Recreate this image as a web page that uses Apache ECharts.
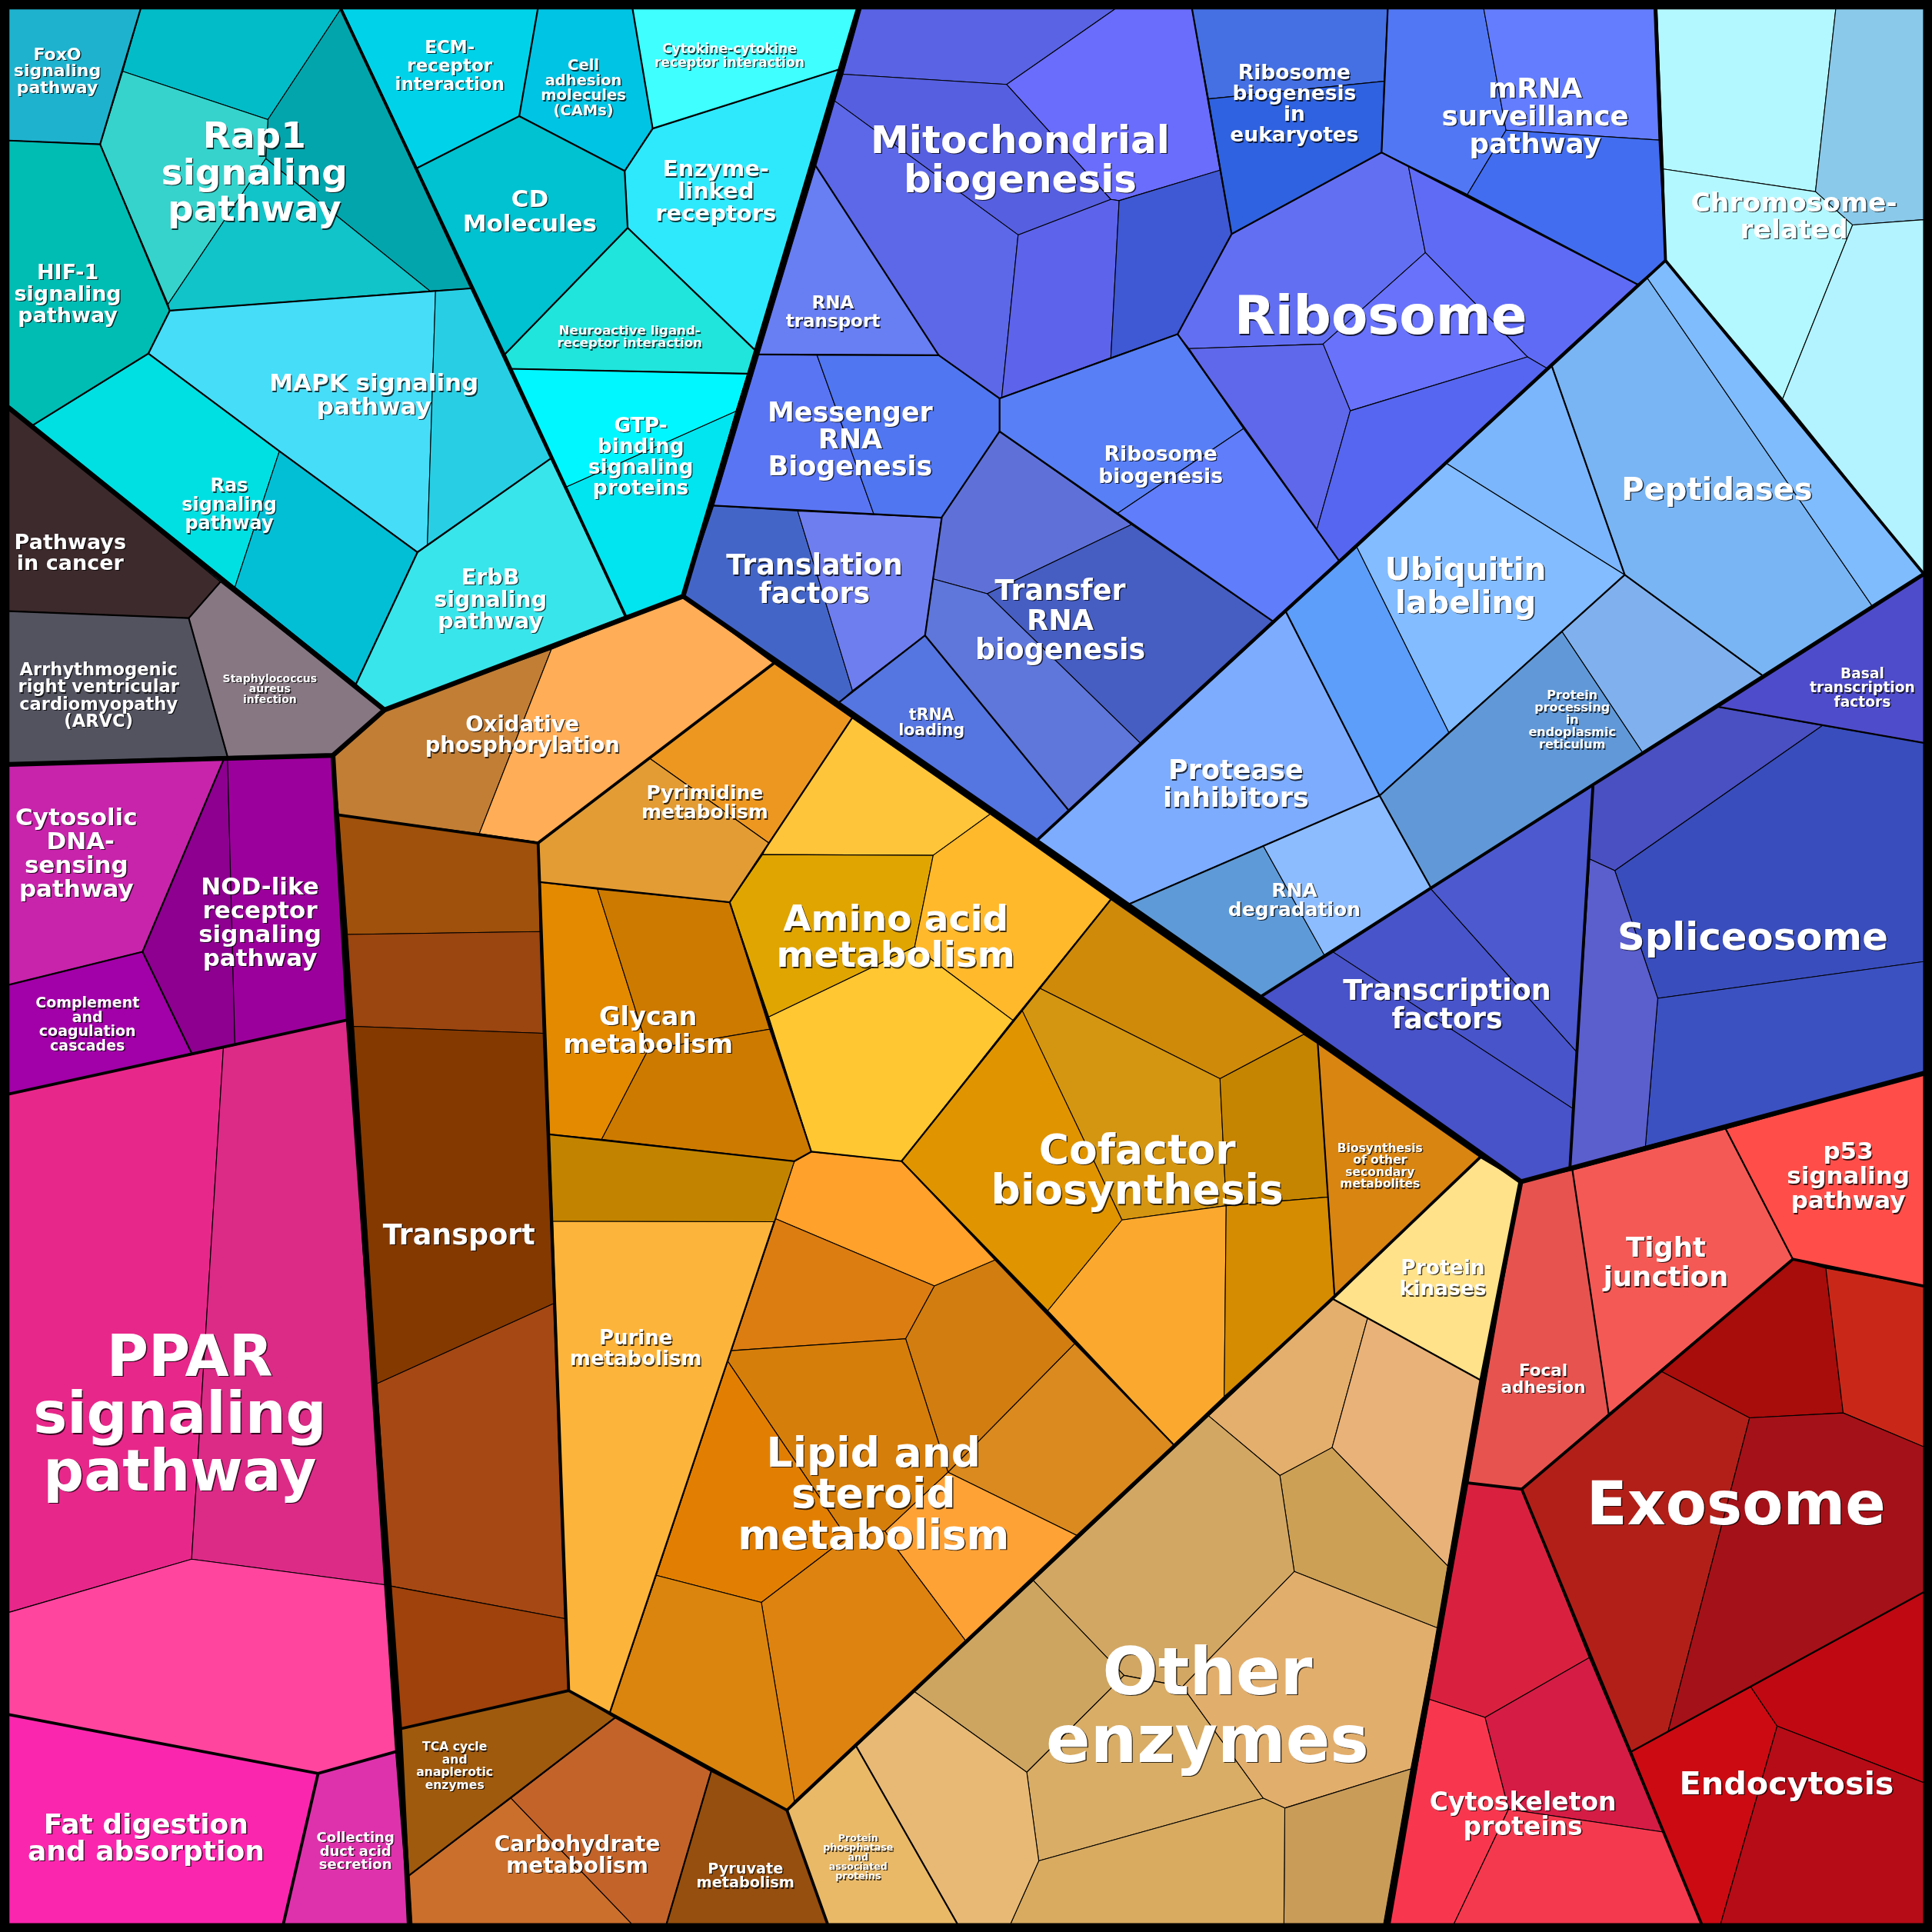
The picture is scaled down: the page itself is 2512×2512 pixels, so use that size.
<!DOCTYPE html>
<html><head><meta charset="utf-8">
<style>html,body{margin:0;padding:0;background:#000}#c{width:2512px;height:2512px}</style>
<script src="https://cdn.jsdelivr.net/npm/echarts@6/dist/echarts.min.js"></script>
</head><body><div id="c"></div>
<script>
const signalingCells = [
 ['#1fb2ce',[[7.3,7.3],[113.7,7.3],[81,116.7],[7.3,113.7]]],
 ['#02bcc8',[[113.7,7.3],[275.7,7.3],[216.7,96.7],[99.3,57.7]]],
 ['#03a5ac',[[275.7,7.3],[380.7,233.3],[347.7,235.3],[215,128.3],[216.7,96.7]]],
 ['#35d3cc',[[99.3,57.7],[216.7,96.7],[215,128.3],[136,246],[81,116.7]]],
 ['#10c4c9',[[215,128.3],[347.7,235.3],[137.3,251.3],[136,246]]],
 ['#00bdb4',[[7.3,113.7],[81,116.7],[137.3,251.3],[120,286],[26,344.3],[7.3,330]]],
 ['#46ddf8',[[137.3,251.3],[352.3,235.3],[345.7,440.7],[337.7,446.7],[226,365],[120,286]]],
 ['#28cfe4',[[352.3,235.3],[380.7,233.3],[445.3,371],[345.7,440.7]]],
 ['#00e0e3',[[120,286],[226,365],[190,475],[178.3,470.7],[26,344.3]]],
 ['#03bfd6',[[226,365],[337.7,446.7],[288,555],[190,475]]],
 ['#38e5ea',[[337.7,446.7],[445.3,371],[506,498.3],[311,576],[288,555]]],
 ['#00d3e9',[[276.7,7.3],[435,7.3],[420,94],[337.3,136]]],
 ['#00c4e4',[[435,7.3],[511.7,7.3],[529.7,104],[505.3,138.3],[420,94]]],
 ['#3fffff',[[511.7,7.3],[696,7.3],[681,56],[529.7,104]]],
 ['#2ee9fc',[[529.7,104],[681,56],[612.6,283.3],[507.7,184.3],[505.3,138.3]]],
 ['#00c2d0',[[420,94],[505.3,138.3],[507.7,184.3],[408,287],[337.3,136]]],
 ['#1fe5dc',[[408,287],[507.7,184.3],[612.6,283.3],[606.6,302.3],[412.7,298.3]]],
 ['#00f7ff',[[412.7,298.3],[606.6,302.3],[597,332.7],[458,394]]],
 ['#00e5f0',[[458,394],[597,332.7],[554.3,482.3],[506,498.3]]]
];
const blueCells = [
 ['#5963e3',[[698.3,7.3],[903.6,7.3],[816,68.3],[683.6,60]]],
 ['#6a6cfb',[[903.6,7.3],[966,7.3],[988.6,137.7],[907,162.3],[900.3,161.3],[816,68.3]]],
 ['#565fe0',[[683.6,60],[816,68.3],[900.3,161.3],[825.3,190],[677,81.7]]],
 ['#5c68e8',[[677,81.7],[825.3,190],[812,321.7],[810.3,322.3],[761,287.3],[661.6,134.3]]],
 ['#5d63ea',[[825.3,190],[900.3,161.3],[907,162.3],[900.3,289.3],[812,321.7]]],
 ['#3f58d4',[[907,162.3],[988.6,137.7],[998,189.3],[954.3,270.3],[900.3,289.3]]],
 ['#687ef3',[[661.6,134.3],[761,287.3],[615.6,286.7]]],
 ['#5a75f3',[[615.6,286.7],[662.6,287.3],[708.6,416],[579,409]]],
 ['#5076f1',[[662.6,287.3],[761,287.3],[810.3,322.3],[810.3,349],[763.3,418.7],[708.6,416]]],
 ['#4465c8',[[579,409],[647,413.3],[691.3,560.3],[680.3,570],[554.3,482.3]]],
 ['#6f7eee',[[647,413.3],[763.5,419],[750,514],[691.3,560.3]]],
 ['#5575e1',[[750,514],[866,657],[840,682],[680.3,570]]],
 ['#5f71d8',[[763.3,418.7],[810.3,349],[917,424.3],[800.3,480.3],[756.6,468.3]]],
 ['#465dc2',[[917,424.3],[1031,502.3],[923.9,602.6],[800.3,480.3]]],
 ['#5f76da',[[756.6,468.3],[800.3,480.3],[923.9,602.6],[866,657],[750,514]]],
 ['#587ff5',[[810.3,322.3],[954.3,270.3],[1007.6,346.7],[905.6,415.3],[810.3,349]]],
 ['#607dfb',[[1007.6,346.7],[1086.4,453.3],[1031,502.3],[917,424.3],[905.6,415.3]]],
 ['#636ff2',[[998,189.3],[1121,123.3],[1142.7,134.3],[1156.4,204.3],[1073.7,278.3],[963.6,282],[954.3,270.3]]],
 ['#606bf5',[[1142.7,134.3],[1328,230],[1254.4,297.7],[1239,288.7],[1156.4,204.3]]],
 ['#6872fb',[[1156.4,204.3],[1239,288.7],[1095.7,332.3],[1073.7,278.3]]],
 ['#5f68ea',[[963.6,282],[1073.7,278.3],[1095.7,332.3],[1068.7,428.3],[1007.6,346.7]]],
 ['#5666f0',[[1095.7,332.3],[1239,288.7],[1254.4,297.7],[1086.4,453.3],[1068.7,428.3]]],
 ['#4570e4',[[966,7.3],[1126,7.3],[1123,65.7],[979.3,80]]],
 ['#2f62e0',[[979.3,80],[1123,65.7],[1121,123.3],[998,189.3]]],
 ['#5177f5',[[1126,7.3],[1203.7,7.3],[1221.7,105.3],[1190.4,157.3],[1121,123.3]]],
 ['#647dfe',[[1203.7,7.3],[1341.4,7.3],[1345.4,113.3],[1221.7,105.3]]],
 ['#426df0',[[1221.7,105.3],[1345.4,113.3],[1350.7,210.7],[1328,230],[1190.4,157.3]]]
];
const paleBlueCells = [
 ['#b4f8ff',[[1343.7,7.3],[1488.4,7.3],[1472,155],[1349,136.7]]],
 ['#8ac9e9',[[1488.4,7.3],[1559.4,7.3],[1559.4,177.7],[1502,182],[1472,155]]],
 ['#b4f8ff',[[1349,136.7],[1472,155],[1502,182],[1445.4,322.7],[1350.7,210.7]]],
 ['#b3f3ff',[[1502,182],[1559.4,177.7],[1559.4,464],[1445.4,322.7]]],
 ['#79b5f4',[[1336,225],[1517.7,490],[1429.4,548.3],[1317.7,465],[1258.7,296]]],
 ['#7fbcfd',[[1336,225],[1350.7,210.7],[1559.4,464],[1517.7,490]]],
 ['#7bb6fd',[[1173.7,375],[1258.7,296],[1317.7,465]]],
 ['#83bcff',[[1173.7,375],[1317.7,465],[1267,511],[1175.4,594.3],[1101,442.7]]],
 ['#5c9efa',[[1101,442.7],[1175.4,594.3],[1119.4,645.3],[1043.7,495]]],
 ['#80b1ee',[[1267,511],[1317.7,465],[1429.4,548.3],[1332,610.3]]],
 ['#6199d8',[[1267,511],[1332,610.3],[1161,720],[1119.4,645.3],[1175.4,594.3]]],
 ['#7dacff',[[1043.7,495],[1119.4,645.3],[914.3,733.3],[840,682]]],
 ['#5e9ad7',[[914.3,733.3],[1023.6,686],[1074.7,774.3],[1021,808.3]]],
 ['#8cbcfd',[[1023.6,686],[1119.4,645.3],[1161,720],[1074.7,774.3]]]
];
const spliceCells = [
 ['#4c59cf',[[1292,637.6],[1161,721],[1278.7,852.6]]],
 ['#4854ca',[[1161,721],[1278.7,852.6],[1275.4,898.3],[1082,772]]],
 ['#4852c9',[[1082,772],[1275.4,898.3],[1273.4,946],[1233.7,957.6],[1021,808.3]]],
 ['#4a4fc2',[[1292,637.6],[1393.7,573.6],[1477.7,588.6],[1309.7,706],[1289.4,696.6]]],
 ['#4f4ccb',[[1393.7,573.6],[1559.4,466],[1559.4,602.6]]],
 ['#394dbc',[[1477.7,588.6],[1559.4,602.6],[1559.4,779.6],[1344.4,809.3],[1309.7,706]]],
 ['#3b51c2',[[1344.4,809.3],[1559.4,779.6],[1559.4,870],[1334.4,929]]],
 ['#5b5ecd',[[1289.4,696.6],[1309.7,706],[1344.4,809.3],[1334.4,929],[1273.4,946]]]
];
const redCells = [
 ['#ff4e4a',[[1399.4,915],[1559.4,870],[1559.4,1042],[1453.7,1020.3]]],
 ['#f55955',[[1275.4,948.3],[1399.4,915],[1453.7,1020.3],[1304.7,1147]]],
 ['#e7534f',[[1233.7,957.6],[1275.4,948.3],[1304.7,1147],[1234.4,1208],[1191,1203]]],
 ['#a80c0b',[[1347.7,1113],[1453.7,1020.3],[1480.4,1027.6],[1494.4,1146.4],[1418.7,1150.4]]],
 ['#c92819',[[1480.4,1027.6],[1559.4,1042],[1559.4,1173.7],[1494.4,1146.4]]],
 ['#b21f19',[[1347.7,1113],[1418.7,1150.4],[1352.7,1404.4],[1323,1420.4],[1234.4,1208]]],
 ['#a51118',[[1418.7,1150.4],[1494.4,1146.4],[1559.4,1173.7],[1559.4,1291.4],[1352.7,1404.4]]],
 ['#cc0a12',[[1323,1420.4],[1419.7,1368],[1441,1399.7],[1395.4,1559.4],[1379.7,1559.4]]],
 ['#c00812',[[1419.7,1368],[1559.4,1291.4],[1559.4,1445.4],[1441,1399.7]]],
 ['#b60c17',[[1441,1399.7],[1559.4,1445.4],[1559.4,1559.4],[1395.4,1559.4]]],
 ['#d9213f',[[1191,1203],[1234.4,1208],[1289,1344.4],[1204.7,1392.7],[1159.7,1378]]],
 ['#d41c45',[[1204.7,1392.7],[1289,1344.4],[1348.7,1485.4],[1223.7,1467]]],
 ['#f8374f',[[1159.7,1378],[1204.7,1392.7],[1223.7,1467],[1179.7,1559.4],[1126.4,1559.4]]],
 ['#f4394f',[[1223.7,1467],[1348.7,1485.4],[1379.7,1559.4],[1179.7,1559.4]]]
];
const tanCells = [
 ['#ffe28a',[[1200.7,938],[1233.7,957.6],[1202,1120.4],[1082,1054.4]]],
 ['#e4af6c',[[1082,1054.4],[1109.7,1069.7],[1081,1174.4],[1037,1197],[979.3,1148.7]]],
 ['#e9b278',[[1109.7,1069.7],[1202,1120.4],[1174.7,1270.4],[1081,1174.4]]],
 ['#cca055',[[1081,1174.4],[1174.7,1270.4],[1166.4,1320.4],[1050.4,1274.7],[1037,1197]]],
 ['#d2a763',[[979.3,1148.7],[1037,1197],[1050.4,1274.7],[958.3,1367.7],[911,1358.7],[837.6,1282]]],
 ['#cda560',[[837.6,1282],[911,1358.7],[901,1368.7],[832.3,1437],[741.6,1372]]],
 ['#d9ad66',[[911,1358.7],[958.3,1367.7],[1023.6,1458],[842,1508.7],[832.3,1437],[901,1368.7]]],
 ['#e2ae6c',[[1050.4,1274.7],[1166.4,1320.4],[1144.7,1434.4],[1041,1466],[1023.6,1458],[958.3,1367.7]]],
 ['#c99c58',[[1041,1466],[1144.7,1434.4],[1122.7,1559.4],[1040.3,1559.4]]],
 ['#d8ab61',[[842,1508.7],[1023.6,1458],[1041,1466],[1040.3,1559.4],[819.3,1559.4]]],
 ['#e7b975',[[741.6,1372],[832.3,1437],[842,1508.7],[819.3,1559.4],[776,1559.4],[694.3,1416]]],
 ['#e9b967',[[694.3,1416],[776,1559.4],[671,1559.4],[638.3,1467.7]]]
];
const orangeCells = [
 ['#ffa12a',[[658,933.3],[731,941],[806.6,1021],[757.6,1043.7],[629.3,987.6],[644.3,941]]],
 ['#dc7d12',[[629.3,987.6],[757.6,1043.7],[734.3,1086.4],[593.3,1096]]],
 ['#d17d10',[[757.6,1043.7],[806.6,1021],[871,1090.4],[768.6,1194.4],[734.3,1086.4]]],
 ['#da8a1e',[[871,1090.4],[951,1172],[872.6,1245.4],[768.6,1194.4]]],
 ['#d67e0a',[[593.3,1096],[734.3,1086.4],[768.6,1194.4],[717.6,1242],[691,1243.7],[681,1238.7],[590.3,1104.4]]],
 ['#e27f02',[[590.3,1104.4],[681,1238.7],[691,1243.7],[617.6,1299.7],[532.6,1277.7]]],
 ['#ffa235',[[768.6,1194.4],[872.6,1245.4],[782.6,1330.4],[727.6,1257],[717.6,1242]]],
 ['#de830f',[[691,1243.7],[717.6,1242],[727.6,1257],[782.6,1330.4],[644.3,1460.4],[617.6,1299.7]]],
 ['#db850e',[[532.6,1277.7],[617.6,1299.7],[644.3,1460.4],[638.3,1467.7],[493.3,1388.7]]],
 ['#fdb43a',[[447,989.5],[628,990],[593.3,1096],[532.6,1277.7],[493.3,1388.7],[460,1371]]],
 ['#c28400',[[444.3,919.3],[644.3,941],[628,990],[447,989.5]]],
 ['#e38a00',[[436.7,715.3],[483.3,721],[526,851],[486.7,923.3],[444.3,919.3]]],
 ['#cc7a00',[[483.3,721],[592,731.6],[624.3,834.3],[526,851]]],
 ['#cd7a00',[[526,851],[624.3,834.3],[658,933.3],[644.3,941],[486.7,923.3]]],
 ['#ed9721',[[527,615],[627.6,538.3],[691,582.6],[623.6,683.6]]],
 ['#e39c34',[[435.3,683.6],[527,615],[623.6,683.6],[592,731.6],[436.7,715.3]]],
 ['#c27e35',[[310.7,576],[446,527],[387.7,676],[274,661],[269.3,612.7]]],
 ['#ffad56',[[446,527],[554.3,482.3],[627.6,538.3],[527,615],[435,683],[387.7,676]]],
 ['#ffc53a',[[691,582.6],[802.6,660.3],[756.6,693.6],[618.6,693],[623.6,683.6]]],
 ['#e0a500',[[618.6,693],[756.6,693.6],[741.6,767.7],[623.6,824.3],[592,731.6]]],
 ['#ffb92b',[[802.6,660.3],[900.3,729.3],[821,827],[741.6,767.7],[756.6,693.6]]],
 ['#ffc732',[[623.6,824.3],[741.6,767.7],[821,827],[731,941],[658,933.3]]],
 ['#cf8a0a',[[900.3,729.3],[1069.4,846],[1058,838.5],[988.6,874.3],[842.6,801]]],
 ['#d49510',[[842.6,801],[988.6,874.3],[993.6,977],[909.3,988.6],[828.6,819.3]]],
 ['#e09400',[[828.6,819.3],[909.3,988.6],[849.3,1063.7],[731,941]]],
 ['#faa92e',[[909.3,988.6],[993.6,977],[992,1133],[951,1172],[849.3,1063.7]]],
 ['#c68500',[[988.6,874.3],[1058,838.5],[1069.4,846],[1077.7,970],[993.6,977]]],
 ['#d68c00',[[993.6,977],[1077.7,970],[1083,1052],[992,1133]]],
 ['#d98512',[[1069.4,846],[1200.4,937.6],[1083,1052]]]
];
const brownCells = [
 ['#a0510b',[[274,661],[435,683],[436.7,755.3],[281,757.6]]],
 ['#9b4510',[[281,757.6],[436.7,755.3],[439.3,837.6],[286,832]]],
 ['#843900',[[286,832],[439.3,837.6],[447.7,1058],[305,1122.7]]],
 ['#a64813',[[305,1122.7],[447.7,1058],[456.7,1312.7],[315.7,1286.4]]],
 ['#9f420b',[[315.7,1286.4],[456.7,1312.7],[460,1371],[323.3,1402]]],
 ['#9f5a0e',[[323.3,1402],[460,1371],[497.3,1393],[331,1520.4]]],
 ['#cb6f2c',[[413.3,1458],[510.7,1559.4],[333.3,1559.4],[331,1520.4]]],
 ['#c3632a',[[497.3,1393],[577,1436.4],[541,1559.4],[510.7,1559.4],[413.3,1458]]],
 ['#964f0e',[[577,1436.4],[638.3,1467.7],[671,1559.4],[541,1559.4]]]
];
const magentaCells = [
 ['#3d2a2c',[[7.3,330],[178.3,470.7],[152.7,500],[7.3,494.3]]],
 ['#535360',[[7.3,494.3],[152.7,500],[184,613.6],[7.3,619]]],
 ['#867782',[[178.3,470.7],[310.7,576],[269.3,612.7],[184,613.6],[152.7,500]]],
 ['#c724ab',[[7.3,620],[181,616],[115.3,771.6],[7.3,798.3]]],
 ['#a200a8',[[7.3,798.3],[115.3,771.6],[155,853.6],[7.3,886.6]]],
 ['#8d0090',[[181,616],[184,614],[190,846.3],[155,853.6],[115.3,771.6]]],
 ['#9c009c',[[184,613.6],[269.3,612.7],[281.7,826.6],[190,846.3]]],
 ['#e8278a',[[7.3,886.6],[180.7,849.3],[155,1264.7],[7.3,1307.7]]],
 ['#dc2a87',[[180.7,849.3],[281.7,826.6],[311,1285.4],[155,1264.7]]],
 ['#ff459e',[[7.3,1307.7],[155,1264.7],[311,1285.4],[320,1420.4],[257.3,1438],[7.3,1390.4]]],
 ['#fb26ae',[[7.3,1390.4],[257.3,1438],[229.3,1559.4],[7.3,1559.4]]],
 ['#de32ac',[[257.3,1438],[320,1420.4],[331,1559.4],[229.3,1559.4]]]
];
// Group borders, thickest first
const thickBorders = [
 [[7.3,330],[311,576],[554.3,482.3]],
 [[311,576],[269.3,612.7],[7.3,620]],
 [[269.3,612.7],[281.7,826.6],[323.3,1402],[331,1559.4]],
 [[554.3,482.3],[840,682],[1021,808.3],[1233.7,957.6]],
 [[1233.7,957.6],[1559.4,870]],
 [[1233.7,957.6],[1202,1120.4],[1126.4,1559.4]],
 [[696,7.3],[554.3,482.3]]
];
const heavyBorders = [
 [[7.3,886.6],[281.7,826.6]],
 [[275.7,7.3],[408,287],[506,498.3]],
 [[840,682],[1350.7,210.7]],
 [[1343,7.3],[1350.7,210.7],[1559.4,464],[1021,808.3]],
 [[638.3,1467.7],[1083,1052],[1200.7,938]],
 [[638.3,1467.7],[671,1559.4]],
 [[1234.4,1208],[1379.7,1559.4]],
 [[1191,1203],[1234.4,1208],[1453.7,1020.3],[1559.4,1042]],
 [[1292,637.6],[1273.4,946]],
 [[435.3,683.6],[460,1371],[638.3,1467.7]],
 [[274,661],[435.3,683.6],[527,615],[627.6,538.3]],
 [[323.3,1402],[460,1371]],
 [[7.3,1390.4],[257.3,1438],[320,1420.4]],
 [[257.3,1438],[229.3,1559.4]]
];
const midBorders = [
 [[113.7,7.3],[81,116.7],[7.3,113.7]],
 [[81,116.7],[137.3,251.3],[120,286],[26,344.3]],
 [[137.3,251.3],[380.7,233.3]],
 [[120,286],[226,365],[337.7,446.7],[288,555]],
 [[337.7,446.7],[445.3,371]],
 [[435,7.3],[420,94],[337.3,136]],
 [[420,94],[505.3,138.3],[529.7,104],[511.7,7.3]],
 [[529.7,104],[681,56]],
 [[505.3,138.3],[507.7,184.3],[408,287]],
 [[507.7,184.3],[612.6,283.3]],
 [[412.7,298.3],[606.6,302.3]],
 [[966,7.3],[998,189.3],[954.3,270.3],[810.3,322.3]],
 [[661.6,134.3],[761,287.3],[810.3,322.3],[810.3,349],[763.3,418.7],[579,409]],
 [[615.6,286.7],[761,287.3]],
 [[763.5,419],[750,514],[680.3,570]],
 [[750,514],[866,657]],
 [[810.3,349],[1031,502.3]],
 [[954.3,270.3],[1086.4,453.3]],
 [[998,189.3],[1121,123.3],[1328,230]],
 [[1126,7.3],[1121,123.3]],
 [[1258.7,296],[1317.7,465],[1429.4,548.3]],
 [[1317.7,465],[1119.4,645.3]],
 [[1043.7,495],[1119.4,645.3],[1161,720]],
 [[1119.4,645.3],[914.3,733.3]],
 [[1393.7,573.6],[1559.4,602.6]],
 [[1399.4,915],[1453.7,1020.3]],
 [[1275.4,948.3],[1304.7,1147]],
 [[1323,1420.4],[1559.4,1291.4]],
 [[900.3,729.3],[731,941],[951,1172]],
 [[658,933.3],[731,941]],
 [[592,731.6],[658,933.3],[644.3,941],[444.3,919.3]],
 [[592,731.6],[691,582.6]],
 [[436.7,715.3],[592,731.6]],
 [[628,990],[493.3,1388.7]],
 [[331,1520.4],[497.3,1393]],
 [[577,1436.4],[541,1559.4]],
 [[1069.4,846],[1083,1052]],
 [[1082,1054.4],[1202,1120.4]],
 [[694.3,1416],[776,1559.4]],
 [[7.3,494.3],[152.7,500],[178.3,470.7]],
 [[152.7,500],[184,613.6]],
 [[181,616],[115.3,771.6],[155,853.6]],
 [[115.3,771.6],[7.3,798.3]]
];
const labelNames = ['FoxO\nsignaling\npathway','Rap1\nsignaling\npathway','HIF-1\nsignaling\npathway','MAPK signaling\npathway','Ras\nsignaling\npathway','ErbB\nsignaling\npathway','Pathways\nin cancer','ECM-\nreceptor\ninteraction','Cell\nadhesion\nmolecules\n(CAMs)','CD\nMolecules','Enzyme-\nlinked\nreceptors','Neuroactive ligand-\nreceptor interaction','Cytokine-cytokine\nreceptor interaction','GTP-\nbinding\nsignaling\nproteins','Mitochondrial\nbiogenesis','RNA\ntransport','Messenger\nRNA\nBiogenesis','Translation\nfactors','tRNA\nloading','Transfer\nRNA\nbiogenesis','Ribosome\nbiogenesis','Ribosome','Ribosome\nbiogenesis\nin\neukaryotes','mRNA\nsurveillance\npathway','Chromosome-\nrelated','Peptidases','Ubiquitin\nlabeling','Protease\ninhibitors','RNA\ndegradation','Protein\nprocessing\nin\nendoplasmic\nreticulum','Basal\ntranscription\nfactors','Transcription\nfactors','Spliceosome','p53\nsignaling\npathway','Tight\njunction','Focal\nadhesion','Exosome','Endocytosis','Cytoskeleton\nproteins','Other\nenzymes','Protein\nkinases','Biosynthesis\nof other\nsecondary\nmetabolites','Cofactor\nbiosynthesis','Amino acid\nmetabolism','Glycan\nmetabolism','Pyrimidine\nmetabolism','Oxidative\nphosphorylation','Transport','Purine\nmetabolism','Lipid and\nsteroid\nmetabolism','Carbohydrate\nmetabolism','Pyruvate\nmetabolism','TCA cycle\nand\nanaplerotic\nenzymes','Protein\nphosphatase\nand\nassociated\nproteins','Fat digestion\nand absorption','Collecting\nduct acid\nsecretion',' PPAR\nsignaling\npathway','Arrhythmogenic\nright ventricular\ncardiomyopathy\n(ARVC)','Staphylococcus\naureus\ninfection','Cytosolic\n DNA-\nsensing\npathway','NOD-like\nreceptor\nsignaling\npathway','Complement\nand\ncoagulation\ncascades'];
const labelCenters = [[46.5,56],[206.5,138.5],[55,237],[303.5,319],[186,408],[398,485],[57,447],[365,52],[473.5,70],[430,170],[581,154],[511,272],[592,44],[520,369],[828,128],[676,252],[690,355],[661,469],[756,585],[860.5,502],[942,376],[1120.5,255],[1050.5,83],[1246,93],[1456,174],[1393.5,396],[1189.5,474],[1003,635],[1050.5,729],[1276,583],[1511.5,557],[1174.5,814],[1422.5,759],[1500,953],[1352,1023],[1252.5,1118],[1409,1219],[1450,1446],[1236,1471],[980,1383],[1171,1036],[1120,945],[923,948],[727,759],[526,835],[572,650],[424,595],[372.5,1001],[516,1093],[709,1211],[468.5,1504],[605,1521],[369,1432],[696.5,1506],[118.5,1490],[288.5,1501],[146,1146],[80,563],[219,558],[62,691],[211,747],[71,830]];
const labelSizes = [22,47,27,31,24,28.5,27,23,19.5,31,29,16.6,17.2,26.5,50,23,35,36.5,20.5,36.5,26.7,69,26.5,35.7,34.5,40,40.5,35,25,16,18.7,36.5,49.7,31,35.5,21.5,77.5,41.4,33,85,26.5,15.5,53.5,47,33.5,25,27.5,36.5,26,53.5,28,19.3,15.6,12.6,36,18,74,22.6,14,31,31,19];
const labelLineHeights = [21.5,47.5,28,30.5,24.5,28.5,27,24,19.5,31.5,29,16,17.6,27,51,24,35,36.5,20.5,38.5,28.5,71,27,36,35,40,43,36,25,16,18.5,37.5,50,32,38.5,21.5,78,41,32,88,27.5,15.5,52.5,47,36,25,27.5,36,27,53.5,28,18.5,16.5,12.3,35,17.5,74.5,22.3,13.5,31,31,18.5];

const cells = [].concat(signalingCells, blueCells, paleBlueCells, spliceCells, redCells, tanCells, orangeCells, brownCells, magentaCells);

// The vertices were read from three overlapping rows and columns of crops.
// Each crop was read at a scale 0.33% too small, so each reading is stretched back from its crop's edge.
const cropStarts = [0, 524.3, 1043.7];
const cropStretch = 1.00334;
function fromCrop(v){
  const start = v >= cropStarts[2] ? cropStarts[2] : v >= cropStarts[1] ? cropStarts[1] : cropStarts[0];
  return start + (v - start) * cropStretch;
}
const toMap = p => [fromCrop(p[0]), fromCrop(p[1])];

function borderSeries(list, width){
  return {type:'custom', coordinateSystem:'cartesian2d', silent:true, clip:false, animation:false, z:3,
    data:list.map((_,i)=>[i]), encode:{x:0,y:0},
    renderItem(params, api){
      return {type:'polyline', shape:{points:list[params.dataIndex].map(p=>api.coord(toMap(p)))},
        style:{stroke:'#000', lineWidth:width, fill:null, lineJoin:'miter', lineCap:'round'}};
    }};
}
const chart = echarts.init(document.getElementById('c'), null, {renderer:'canvas', width:2512, height:2512});
chart.setOption({
  animation:false, backgroundColor:'#000',
  grid:{left:0,right:0,top:0,bottom:0},
  xAxis:{type:'value',min:0,max:1568,show:false},
  yAxis:{type:'value',min:0,max:1568,inverse:true,show:false},
  series:[
    {type:'custom', coordinateSystem:'cartesian2d', silent:true, clip:false, animation:false, z:2,
     data:cells.map((_,i)=>[i]), encode:{x:0,y:0},
     renderItem(params, api){
       const c = cells[params.dataIndex];
       return {type:'polygon', shape:{points:c[1].map(p=>api.coord(toMap(p)))},
         style:{fill:c[0], stroke:'#000', lineWidth:1.1, lineJoin:'miter'}};
     }},
    borderSeries(midBorders,2.2),
    borderSeries(heavyBorders,3.8),
    borderSeries(thickBorders,6.3),
    {type:'scatter', silent:true, animation:false, z:5, symbolSize:0,
     itemStyle:{color:'#fff', opacity:1},
     data:labelNames.map((n,i)=>({name:n, value:labelCenters[i],
       label:{fontSize:labelSizes[i], lineHeight:labelLineHeights[i], offset:[0, 1.6+labelSizes[i]*0.09]}})),
     label:{show:true, position:'inside', align:'center', verticalAlign:'middle', color:'#fff', opacity:1,
       fontFamily:'"DejaVu Sans"', fontWeight:'bold', formatter:p=>p.name,
       textShadowColor:'rgba(0,0,0,0.75)', textShadowBlur:0.6, textShadowOffsetX:1.4, textShadowOffsetY:1.4}}
  ]
});
</script></body></html>
